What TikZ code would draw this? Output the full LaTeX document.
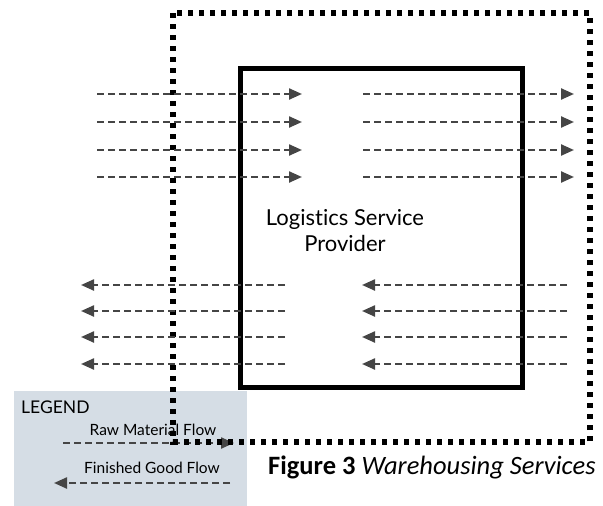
\documentclass[tikz,border=0pt]{standalone}
\usepackage{fontspec}
\setmainfont{Carlito}
\newfontfamily\diagfont[Ligatures=NoCommon]{Lato}
\usetikzlibrary{arrows.meta, positioning}
\definecolor{legendbg}{HTML}{D5DDE5}
\definecolor{flowgray}{HTML}{454545}

\begin{document}
\begin{tikzpicture}[x=1pt, y=-1pt, font=\diagfont, >={Triangle[length=13pt, width=11pt]},
  flow/.style={draw=flowgray, line width=2.3pt, dash pattern=on 7pt off 4pt},
  boundary/.style={line width=5.5pt, dash pattern=on 5pt off 6pt},
  provider/.style={draw, line width=5pt},
  legendtxt/.style={font=\diagfont\fontsize{15.5}{17}\selectfont, inner sep=0pt}]
  \useasboundingbox (0,0) rectangle (603,506);
  % legend panel
  \node[fill=legendbg, minimum width=233pt, minimum height=120pt, inner sep=0pt,
        anchor=north west] (legend) at (14,391) {};
  \node[legendtxt, font=\diagfont\fontsize{17.5}{19}\selectfont, anchor=west] (legtitle) at (21,407) {LEGEND};
  \node[legendtxt] (rawlbl) at (153,430) {Raw Material Flow};
  \node[legendtxt] (finlbl) at (152,468) {Finished Good Flow};
  \coordinate (rawA) at (63,443);
  \coordinate (rawB) at (234,443);
  \coordinate (finA) at (230,483);
  \coordinate (finB) at (54,483);
  \draw[flow, ->] (rawA) -- (rawB);
  \draw[flow, ->] (finA) -- (finB);
  % service boundary and provider
  \draw[boundary] (173,13) rectangle (590,442);
  \draw[provider] (240,68) rectangle (522,387);
  \node[align=center, font=\diagfont\fontsize{22}{26}\selectfont] (lsp) at (345,231)
    {Logistics Service\\Provider};
  % raw material flows in
  \foreach \y [count=\i] in {94,122,150,177}{
    \coordinate (inA\i) at (97,\y);
    \coordinate (inB\i) at (302,\y);
    \coordinate (inC\i) at (363,\y);
    \coordinate (inD\i) at (574,\y);
    \draw[flow, ->] (inA\i) -- (inB\i);
    \draw[flow, ->] (inC\i) -- (inD\i);
  }
  % finished goods flow out
  \foreach \y [count=\i] in {285,311,337,364}{
    \coordinate (outA\i) at (285,\y);
    \coordinate (outB\i) at (81,\y);
    \coordinate (outC\i) at (567,\y);
    \coordinate (outD\i) at (362,\y);
    \draw[flow, ->] (outA\i) -- (outB\i);
    \draw[flow, ->] (outC\i) -- (outD\i);
  }
  \node[anchor=west, font=\fontsize{26.5}{28}\selectfont, inner sep=0pt] (caption) at (268,467)
    {\textbf{Figure 3} \textit{Warehousing Services}};
\end{tikzpicture}
\end{document}
